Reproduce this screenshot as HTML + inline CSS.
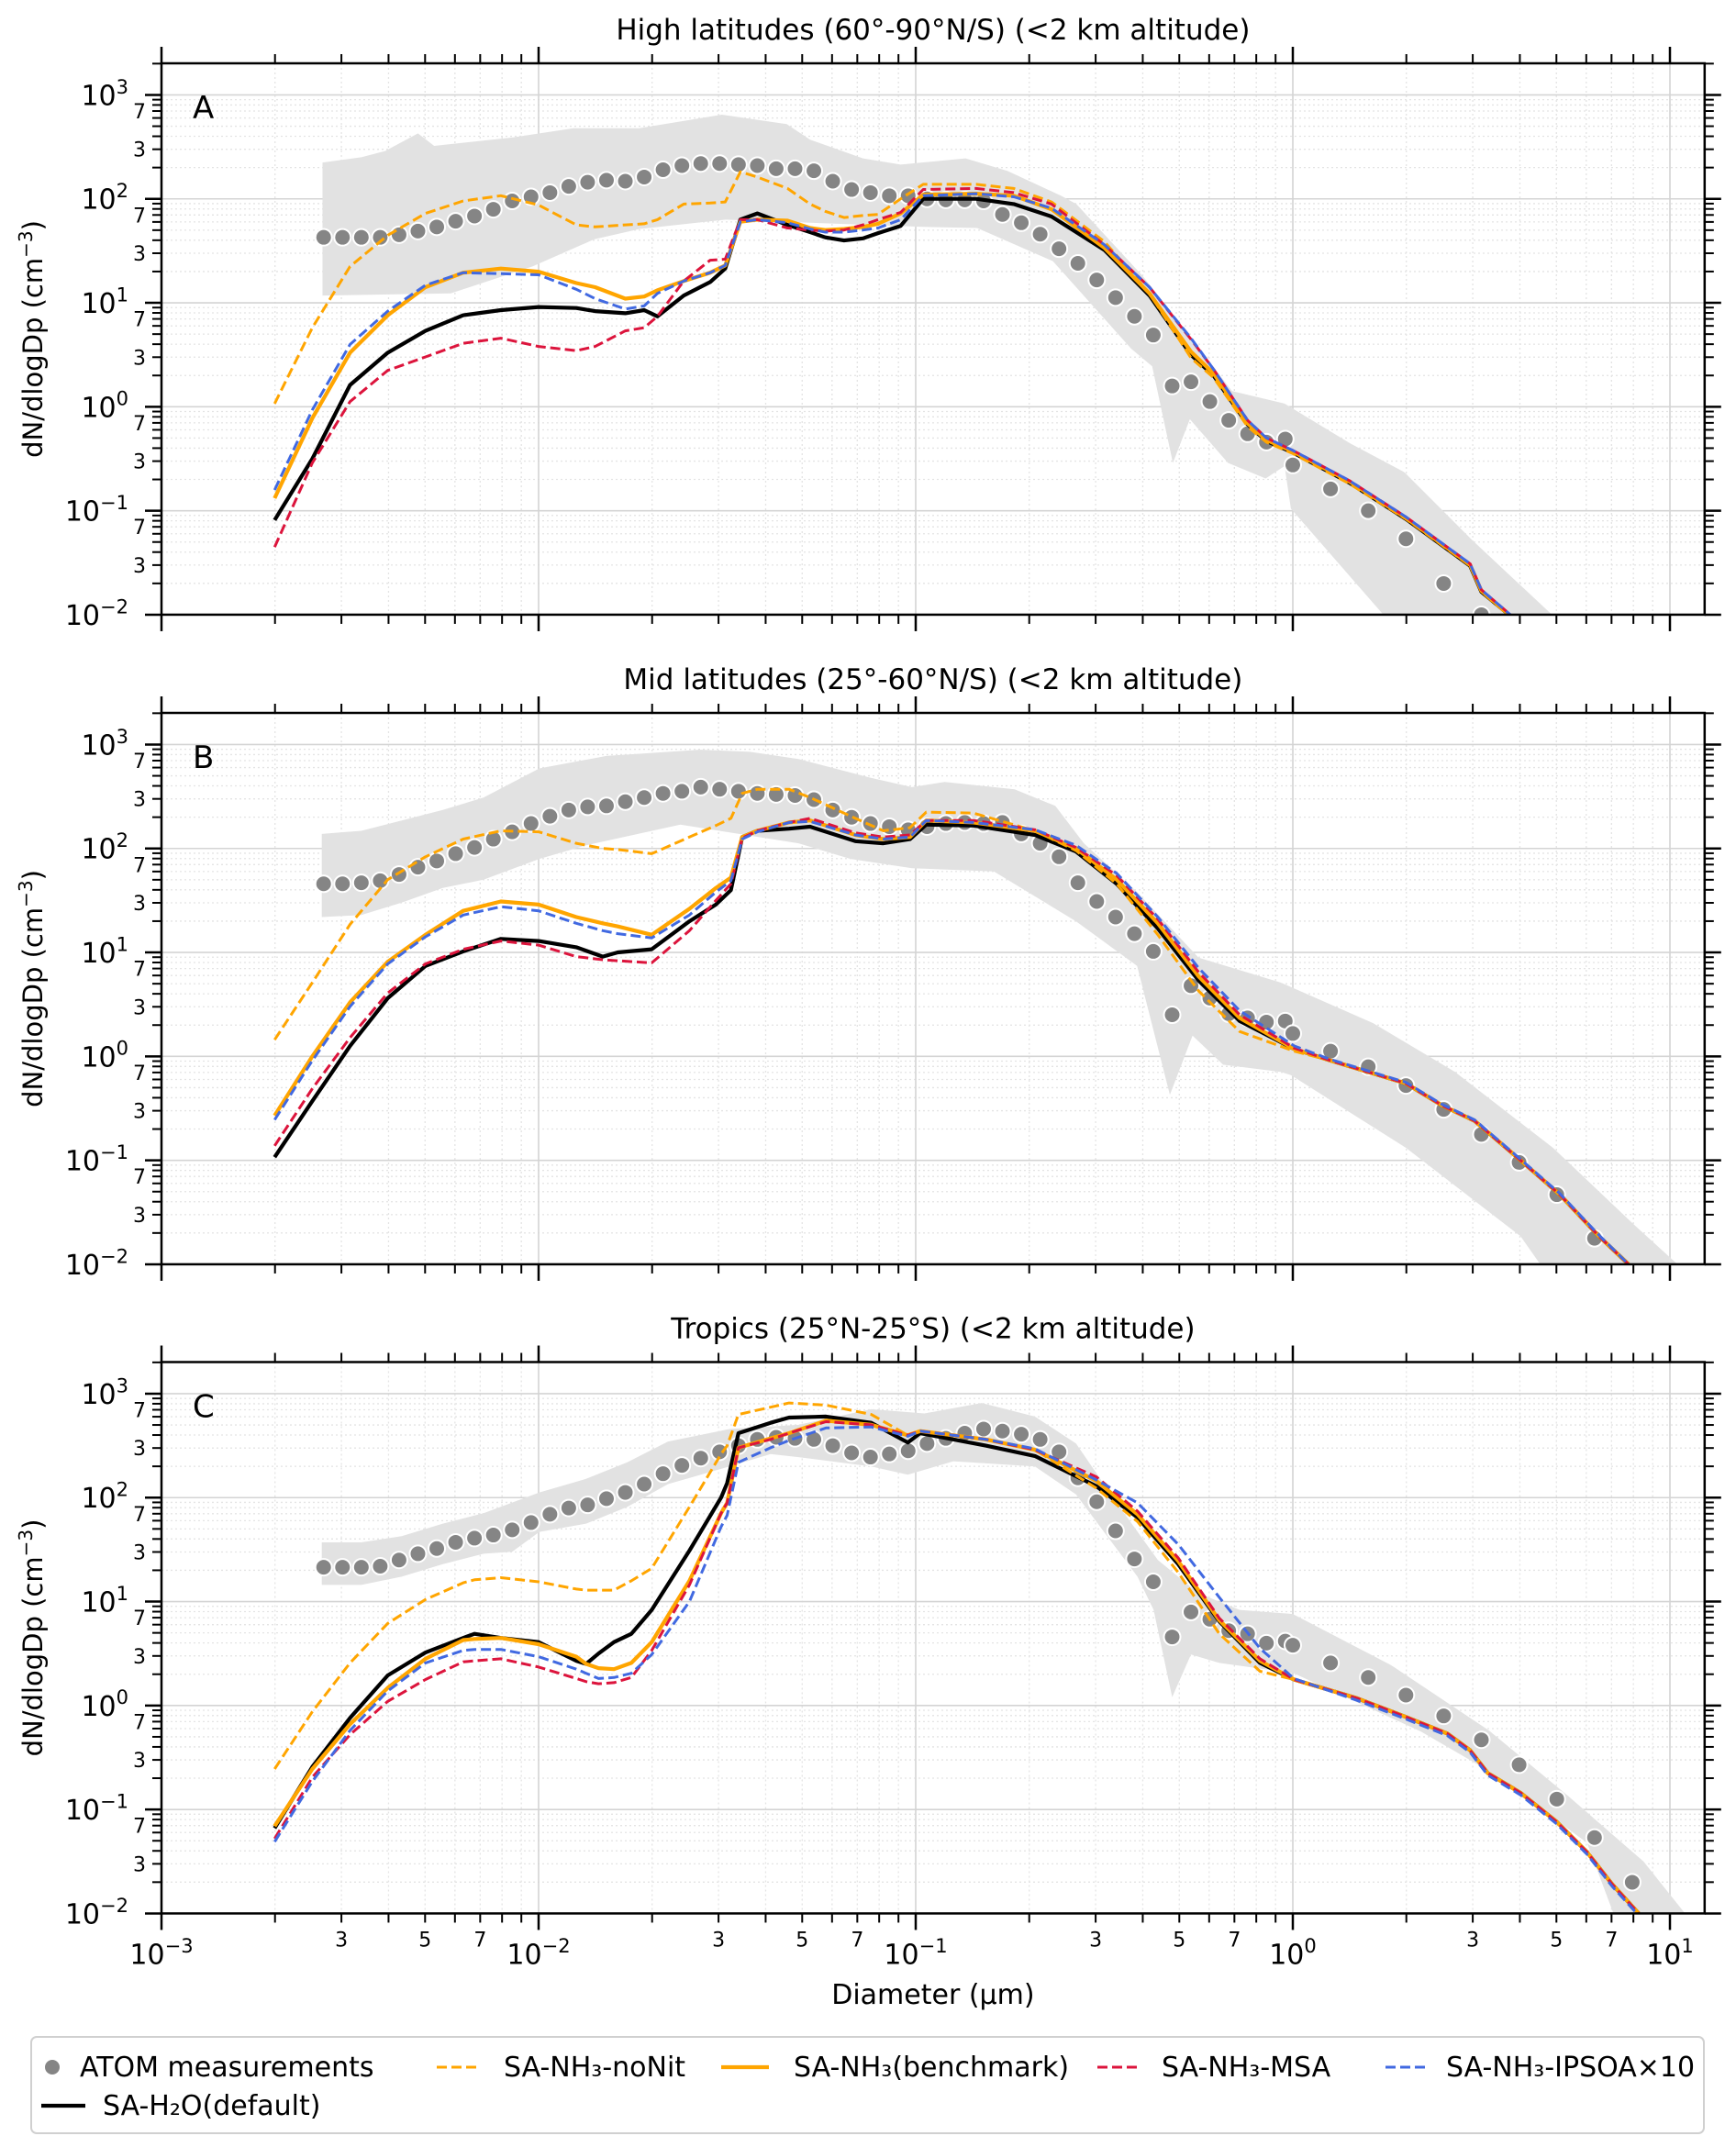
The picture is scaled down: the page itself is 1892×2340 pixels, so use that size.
<!DOCTYPE html>
<html><head><meta charset="utf-8">
<style>
html,body{margin:0;padding:0;background:#fff;}
svg{display:block;font-family:"DejaVu Sans","Liberation Sans",sans-serif;}
</style></head>
<body>
<svg id="chart" width="1892" height="2340" viewBox="0 0 1892 2340" xmlns="http://www.w3.org/2000/svg"><defs id="defs"></defs></svg>
<script>
// ---------- DATA (log10 diameter in µm, log10 dN/dlogDp in cm^-3) ----------
const atomLogD = [-2.57,-2.52,-2.47,-2.42,-2.37,-2.32,-2.27,-2.22,-2.17,-2.12,-2.07,-2.02,-1.97,-1.92,-1.87,-1.82,-1.77,-1.72,-1.67,-1.62,-1.57,-1.52,-1.47,-1.42,-1.37,-1.32,-1.27,-1.22,-1.17,-1.12,-1.07,-1.02,-0.97,-0.92,-0.87,-0.82,-0.77,-0.72,-0.67,-0.62,-0.57,-0.52,-0.47,-0.42,-0.37,-0.32,-0.27,-0.22,-0.17,-0.12,-0.07,-0.02,0.0,0.1,0.2,0.3,0.4,0.5,0.6,0.7,0.8,0.9];

// Panel A
const aGridLogD = [-2.7,-2.6,-2.5,-2.4,-2.3,-2.2,-2.1,-2.0,-1.9,-1.85,-1.77,-1.72,-1.685,-1.615,-1.545,-1.505,-1.465,-1.42,-1.34,-1.28,-1.24,-1.19,-1.14,-1.10,-1.04,-0.98,-0.84,-0.74,-0.64,-0.50,-0.38,-0.27,-0.21,-0.12,-0.07,0,0.15,0.30,0.47,0.50,0.58];
const aH2O = [-1.09,-0.50,0.21,0.52,0.73,0.88,0.93,0.96,0.95,0.92,0.90,0.93,0.87,1.07,1.20,1.33,1.80,1.86,1.75,1.68,1.63,1.60,1.62,1.67,1.74,2.0,2.0,1.95,1.83,1.51,1.07,0.50,0.30,-0.17,-0.33,-0.44,-0.73,-1.08,-1.53,-1.78,-2.02];
const aBench = [-0.88,-0.11,0.52,0.88,1.15,1.29,1.33,1.30,1.19,1.15,1.04,1.06,1.12,1.21,1.29,1.36,1.78,1.80,1.79,1.72,1.70,1.71,1.73,1.76,1.86,2.04,2.05,2.03,1.90,1.53,1.09,0.53,0.32,-0.16,-0.32,-0.43,-0.72,-1.07,-1.52,-1.77,-2.02];
const aIPSOA = [-0.80,-0.03,0.60,0.92,1.17,1.29,1.28,1.27,1.13,1.04,0.94,0.97,1.09,1.21,1.29,1.36,1.78,1.80,1.77,1.71,1.68,1.68,1.70,1.72,1.80,2.03,2.05,2.02,1.91,1.56,1.15,0.66,0.36,-0.13,-0.30,-0.42,-0.71,-1.06,-1.51,-1.76,-2.01];
const aMSA = [-1.35,-0.54,0.05,0.35,0.48,0.61,0.66,0.58,0.54,0.58,0.73,0.76,0.87,1.21,1.41,1.42,1.80,1.80,1.72,1.70,1.69,1.70,1.75,1.80,1.87,2.09,2.10,2.06,1.95,1.56,1.15,0.65,0.36,-0.13,-0.30,-0.42,-0.71,-1.06,-1.51,-1.76,-2.01];
const aNoNit = [0.03,0.76,1.35,1.65,1.86,1.98,2.03,1.94,1.75,1.73,1.75,1.76,1.80,1.95,1.96,1.97,2.26,2.21,2.10,1.95,1.88,1.82,1.84,1.85,2.0,2.14,2.14,2.10,1.97,1.59,1.09,0.47,0.28,-0.19,-0.34,-0.45,-0.74,-1.08,-1.53,-1.78,-2.03];
const aAtom = [1.63,1.63,1.63,1.63,1.655,1.69,1.73,1.785,1.835,1.90,1.98,2.02,2.06,2.12,2.16,2.18,2.17,2.21,2.28,2.32,2.34,2.34,2.33,2.32,2.29,2.29,2.27,2.17,2.09,2.06,2.03,2.03,2.0,1.99,1.99,1.98,1.85,1.77,1.66,1.52,1.38,1.22,1.05,0.87,0.69,0.20,0.24,0.05,-0.13,-0.26,-0.34,-0.31,-0.56,-0.79,-1.0,-1.27,-1.70,-2.0,null,null,null,null];
const aBandUpD = [-2.573,-2.47,-2.407,-2.32,-2.277,-2.07,-1.907,-1.733,-1.514,-1.342,-1.28,-1.14,-1.04,-0.868,-0.757,-0.615,-0.574,-0.396,-0.161,-0.022,0.151,0.296,0.475,0.687];
const aBandUp = [2.35,2.40,2.46,2.63,2.51,2.59,2.68,2.68,2.81,2.72,2.57,2.39,2.33,2.39,2.27,2.03,1.95,1.25,0.15,0.03,-0.35,-0.63,-1.28,-2.0];
const aBandLoD = [-2.573,-2.233,-2.016,-1.853,-1.733,-1.504,-0.979,-0.837,-0.636,-0.429,-0.373,-0.318,-0.273,-0.172,-0.072,-0.022,-0.005,0.24];
const aBandLo = [1.07,1.09,1.35,1.61,1.71,1.80,1.73,1.72,1.40,0.56,0.39,-0.54,-0.12,-0.54,-0.69,-0.57,-0.98,-2.0];

// Panel B
const bGridLogD = [-2.7,-2.6,-2.5,-2.4,-2.3,-2.2,-2.1,-2.0,-1.9,-1.83,-1.79,-1.7,-1.6,-1.53,-1.49,-1.46,-1.42,-1.336,-1.28,-1.16,-1.086,-1.015,-0.972,-0.847,-0.684,-0.575,-0.467,-0.358,-0.25,-0.141,0.004,0.10,0.30,0.395,0.482,0.604,0.708,0.812,0.89];
const bH2O = [-0.97,-0.43,0.10,0.56,0.87,1.01,1.13,1.11,1.05,0.96,1.0,1.03,1.30,1.46,1.60,2.11,2.17,2.19,2.21,2.07,2.05,2.09,2.23,2.22,2.13,1.97,1.66,1.23,0.73,0.34,0.07,-0.04,-0.26,-0.47,-0.62,-1.0,-1.33,-1.73,-2.0];
const bBench = [-0.57,0.0,0.52,0.91,1.17,1.40,1.49,1.46,1.34,1.28,1.25,1.17,1.42,1.62,1.72,2.11,2.17,2.25,2.27,2.13,2.09,2.11,2.27,2.25,2.17,2.0,1.70,1.28,0.77,0.37,0.07,-0.04,-0.26,-0.47,-0.62,-1.0,-1.33,-1.73,-2.0];
const bIPSOA = [-0.61,-0.04,0.48,0.89,1.15,1.36,1.44,1.40,1.28,1.21,1.18,1.14,1.36,1.58,1.69,2.09,2.16,2.25,2.26,2.13,2.09,2.11,2.27,2.25,2.18,2.03,1.76,1.34,0.85,0.44,0.10,-0.03,-0.25,-0.46,-0.61,-0.99,-1.32,-1.72,-2.0];
const bMSA = [-0.86,-0.31,0.18,0.61,0.89,1.03,1.11,1.07,0.96,0.93,0.92,0.90,1.21,1.50,1.66,2.10,2.17,2.25,2.29,2.15,2.11,2.13,2.27,2.27,2.18,2.01,1.74,1.32,0.81,0.40,0.08,-0.04,-0.26,-0.47,-0.62,-1.0,-1.33,-1.73,-2.0];
const bNoNit = [0.16,0.71,1.27,1.70,1.92,2.09,2.17,2.16,2.05,2.0,1.99,1.95,2.11,2.22,2.29,2.53,2.57,2.57,2.49,2.29,2.17,2.20,2.35,2.34,2.17,1.98,1.66,1.17,0.63,0.24,0.05,-0.04,-0.26,-0.47,-0.62,-1.0,-1.33,-1.73,-2.0];
const bAtom = [1.66,1.66,1.67,1.69,1.75,1.82,1.88,1.95,2.01,2.09,2.16,2.24,2.31,2.37,2.40,2.41,2.45,2.49,2.53,2.55,2.59,2.57,2.55,2.53,2.52,2.51,2.47,2.37,2.30,2.24,2.21,2.18,2.21,2.24,2.25,2.24,2.25,2.14,2.05,1.92,1.67,1.49,1.34,1.18,1.01,0.40,0.68,0.56,0.41,0.37,0.33,0.34,0.22,0.05,-0.10,-0.28,-0.51,-0.75,-1.02,-1.33,-1.75,null];
const bBandUpD = [-2.575,-2.47,-2.363,-2.254,-2.146,-1.998,-1.82,-1.57,-1.44,-1.311,-1.119,-1.01,-0.923,-0.738,-0.63,-0.554,-0.413,-0.25,-0.032,0.213,0.43,0.69,0.908,1.02];
const bBandUp = [2.14,2.17,2.27,2.37,2.49,2.77,2.89,2.95,2.93,2.86,2.68,2.59,2.64,2.57,2.41,2.05,1.58,0.95,0.71,0.32,-0.15,-0.88,-1.63,-2.0];
const bBandLoD = [-2.575,-2.47,-2.363,-2.254,-2.146,-1.998,-1.874,-1.624,-1.311,-1.173,-1.01,-0.793,-0.575,-0.413,-0.326,-0.266,-0.185,-0.032,-0.005,0.30,0.604,0.656];
const bBandLo = [1.34,1.36,1.48,1.62,1.70,1.90,2.03,2.23,2.05,1.90,1.81,1.78,1.30,0.87,-0.37,0.20,-0.08,-0.15,-0.18,-0.88,-1.73,-2.0];

// Panel C
const cGridLogD = [-2.7,-2.6,-2.5,-2.4,-2.3,-2.2,-2.17,-2.1,-2.0,-1.9,-1.874,-1.841,-1.8,-1.754,-1.7,-1.6,-1.516,-1.5,-1.47,-1.385,-1.336,-1.238,-1.118,-1.021,-0.988,-0.814,-0.684,-0.521,-0.412,-0.304,-0.195,-0.087,0.003,0.17,0.30,0.41,0.47,0.517,0.604,0.70,0.78,0.847,0.917];
const cH2O = [-1.18,-0.59,-0.12,0.29,0.51,0.65,0.69,0.65,0.61,0.43,0.40,0.50,0.61,0.69,0.92,1.49,2.0,2.14,2.62,2.72,2.77,2.78,2.72,2.53,2.62,2.50,2.40,2.11,1.81,1.36,0.81,0.41,0.25,0.07,-0.11,-0.27,-0.43,-0.65,-0.84,-1.12,-1.41,-1.72,-2.0];
const cBench = [-1.16,-0.61,-0.18,0.17,0.45,0.63,0.64,0.65,0.59,0.47,0.40,0.36,0.35,0.41,0.61,1.20,1.85,1.95,2.48,2.57,2.62,2.74,2.70,2.60,2.64,2.56,2.46,2.16,1.84,1.39,0.82,0.43,0.25,0.07,-0.11,-0.27,-0.43,-0.65,-0.84,-1.12,-1.41,-1.72,-2.0];
const cIPSOA = [-1.31,-0.73,-0.24,0.14,0.41,0.53,0.54,0.54,0.47,0.35,0.31,0.26,0.27,0.31,0.49,1.0,1.72,1.83,2.34,2.48,2.55,2.67,2.68,2.59,2.64,2.56,2.47,2.17,1.95,1.55,1.04,0.55,0.26,0.05,-0.13,-0.29,-0.45,-0.67,-0.86,-1.14,-1.43,-1.74,-2.02];
const cMSA = [-1.28,-0.69,-0.28,0.04,0.25,0.42,0.43,0.45,0.37,0.26,0.23,0.21,0.22,0.27,0.53,1.16,1.85,1.95,2.48,2.56,2.62,2.73,2.70,2.60,2.64,2.56,2.46,2.20,1.87,1.42,0.84,0.45,0.25,0.07,-0.11,-0.27,-0.43,-0.65,-0.84,-1.12,-1.41,-1.72,-2.0];
const cNoNit = [-0.61,-0.06,0.41,0.79,1.02,1.18,1.21,1.23,1.19,1.12,1.11,1.11,1.11,1.20,1.32,1.91,2.42,2.50,2.80,2.87,2.91,2.89,2.80,2.60,2.64,2.56,2.46,2.09,1.77,1.28,0.69,0.33,0.25,0.07,-0.11,-0.27,-0.43,-0.65,-0.84,-1.12,-1.41,-1.72,-2.0];
const cAtom = [1.33,1.33,1.33,1.34,1.40,1.46,1.51,1.57,1.61,1.64,1.69,1.76,1.84,1.90,1.93,1.99,2.05,2.13,2.23,2.31,2.38,2.44,2.50,2.56,2.58,2.57,2.56,2.50,2.43,2.39,2.42,2.45,2.52,2.57,2.62,2.66,2.64,2.61,2.56,2.44,2.19,1.96,1.68,1.41,1.19,0.66,0.90,0.83,0.72,0.69,0.60,0.62,0.58,0.41,0.27,0.10,-0.10,-0.33,-0.57,-0.90,-1.27,-1.70];
const cBandUpD = [-2.575,-2.47,-2.363,-2.254,-2.146,-1.998,-1.874,-1.765,-1.657,-1.494,-1.311,-1.118,-0.977,-0.825,-0.684,-0.575,-0.467,-0.358,-0.25,-0.141,0.0,0.26,0.52,0.73,0.93,1.04];
const cBandUp = [1.57,1.57,1.63,1.75,1.85,2.05,2.18,2.34,2.54,2.66,2.70,2.85,2.81,2.91,2.78,2.52,1.95,1.40,1.08,0.92,0.88,0.39,-0.24,-0.87,-1.5,-2.0];
const cBandLoD = [-2.575,-2.47,-2.363,-2.254,-2.146,-2.07,-1.998,-1.874,-1.765,-1.657,-1.494,-1.385,-1.311,-1.118,-1.021,-0.9,-0.684,-0.575,-0.412,-0.369,-0.32,-0.27,-0.195,0.003,0.34,0.52,0.78,0.85];
const cBandLo = [1.16,1.16,1.24,1.36,1.46,1.48,1.67,1.75,1.91,2.13,2.30,2.42,2.39,2.30,2.22,2.35,2.30,2.03,1.24,0.92,0.08,0.49,0.41,0.31,-0.25,-0.63,-1.32,-2.0];

const titles = ["High latitudes (60°-90°N/S) (<2 km altitude)","Mid latitudes (25°-60°N/S) (<2 km altitude)","Tropics (25°N-25°S) (<2 km altitude)"];
const letters = ["A","B","C"];

// ---------- AXES ----------
const X0 = 176, XDEC = 411, XMIN = -3, XMAX = 1.092;
const YTOP = 3.304, YMIN = -2, YDEC = 113.3;
const PW = X0 + (XMAX - XMIN) * XDEC - X0;
const PH = (YTOP - YMIN) * YDEC;
const tops = [69, 777, 1484.5];
function xs(L){ return X0 + (L - XMIN) * XDEC; }
function ys(top, v){ return top + (YTOP - v) * YDEC; }

const NS = 'http://www.w3.org/2000/svg';
const svg = document.getElementById('chart');
const defs = document.getElementById('defs');
function mk(tag, attrs, parent){
  const e = document.createElementNS(NS, tag);
  for (const k in attrs) e.setAttribute(k, attrs[k]);
  (parent || svg).appendChild(e);
  return e;
}
function sup(parent, x, y, base, exp, size, anchor, name){
  const t = mk('text', {x:x, y:y, 'font-size':size, 'text-anchor':anchor, fill:'#000'}, parent);
  
  
  const a = mk('tspan', {}, t); a.textContent = base;
  const b = mk('tspan', {dy: -size*0.42, 'font-size': size*0.7}, t); b.textContent = exp;
  return t;
}

function drawPanel(pi, grid, h2o, bench, ipsoa, msa, nonit, atom, upD, up, loD, lo){
  const top = tops[pi];
  const g = mk('g', {});
  
  
  const cp = mk('clipPath', {id:'clip'+pi}, defs);
  mk('rect', {x:X0, y:top, width:PW, height:PH}, cp);

  const gg = mk('g', {}, g);
  
  
  for (let k = -3; k <= 1; k++) for (let m = 2; m <= 9; m++){
    const L = k + Math.log10(m); if (L > XMAX) continue;
    const ln = mk('line', {x1:xs(L), x2:xs(L), y1:top, y2:top+PH, stroke:'#e4e4e4', 'stroke-width':1.3, 'stroke-dasharray':'2 3'}, gg);
    
    
  }
  for (let k = -2; k <= 3; k++) for (let m = 2; m <= 9; m++){
    const L = k + Math.log10(m); if (L > YTOP) continue;
    const ln = mk('line', {x1:X0, x2:X0+PW, y1:ys(top,L), y2:ys(top,L), stroke:'#e4e4e4', 'stroke-width':1.3, 'stroke-dasharray':'2 3'}, gg);
    
    
  }
  for (let k = -3; k <= 1; k++){
    const ln = mk('line', {x1:xs(k), x2:xs(k), y1:top, y2:top+PH, stroke:'#d4d4d4', 'stroke-width':1.6}, gg);
    
    
  }
  for (let k = -2; k <= 3; k++){
    const ln = mk('line', {x1:X0, x2:X0+PW, y1:ys(top,k), y2:ys(top,k), stroke:'#d4d4d4', 'stroke-width':1.6}, gg);
    
    
  }

  const plot = mk('g', {'clip-path':'url(#clip'+pi+')'}, g);
  
  

  let pts = [];
  for (let i = 0; i < upD.length; i++) pts.push(xs(upD[i]).toFixed(1)+','+ys(top,up[i]).toFixed(1));
  for (let i = loD.length-1; i >= 0; i--) pts.push(xs(loD[i]).toFixed(1)+','+ys(top,lo[i]).toFixed(1));
  const band = mk('polygon', {points:pts.join(' '), fill:'#e2e2e2', stroke:'none'}, plot);
  
  

  for (let i = 0; i < atomLogD.length; i++){
    if (atom[i] === null || atom[i] === undefined) continue;
    const c = mk('circle', {cx:xs(atomLogD[i]), cy:ys(top,atom[i]), r:9, fill:'#858585', stroke:'#fff', 'stroke-width':2}, plot);
    
    
  }

  const series = [
    {v:h2o, col:'#000', w:4.2, dash:null, name:'sa-h2o-default-line'},
    {v:bench, col:'#FFA500', w:4.2, dash:null, name:'sa-nh3-benchmark-line'},
    {v:nonit, col:'#FFA500', w:3, dash:'11 5', name:'sa-nh3-nonit-line'},
    {v:msa, col:'#DC143C', w:3, dash:'11 5', name:'sa-nh3-msa-line'},
    {v:ipsoa, col:'#4169E1', w:3, dash:'11 5', name:'sa-nh3-ipsoa-line'}
  ];
  for (const s of series){
    const p = [];
    for (let i = 0; i < grid.length; i++) p.push(xs(grid[i]).toFixed(1)+','+ys(top,s.v[i]).toFixed(1));
    const a = {points:p.join(' '), fill:'none', stroke:s.col, 'stroke-width':s.w, 'stroke-linejoin':'round'};
    if (s.dash) a['stroke-dasharray'] = s.dash;
    const pl = mk('polyline', a, plot);
    
    
  }

  const fr = mk('rect', {x:X0, y:top, width:PW, height:PH, fill:'none', stroke:'#000', 'stroke-width':2.5}, g);
  
  

  const tk = mk('g', {stroke:'#000'}, g);
  
  
  for (let k = -3; k <= 1; k++){
    for (let m = 1; m <= 9; m++){
      const L = k + Math.log10(m); if (L > XMAX) continue;
      const len = m === 1 ? 18 : 10, w = m === 1 ? 2.5 : 2;
      const t1 = mk('line', {x1:xs(L), x2:xs(L), y1:top, y2:top-len, 'stroke-width':w}, tk);
      
      
      const t2 = mk('line', {x1:xs(L), x2:xs(L), y1:top+PH, y2:top+PH+len, 'stroke-width':w}, tk);
      
      
    }
  }
  for (let k = -2; k <= 3; k++){
    for (let m = 1; m <= 9; m++){
      const L = k + Math.log10(m); if (L > YTOP) continue;
      const len = m === 1 ? 18 : 10, w = m === 1 ? 2.5 : 2;
      const t1 = mk('line', {x1:X0, x2:X0-len, y1:ys(top,L), y2:ys(top,L), 'stroke-width':w}, tk);
      
      
      const t2 = mk('line', {x1:X0+PW, x2:X0+PW+len, y1:ys(top,L), y2:ys(top,L), 'stroke-width':w}, tk);
      
      
    }
  }

  for (let k = -2; k <= 3; k++){
    sup(g, 140, ys(top,k)+11, '10', k < 0 ? '\u2212'+(-k) : ''+k, 30, 'end', 'y-tick-label');
    for (const m of [3,7]){
      const L = k + Math.log10(m); if (L > YTOP) continue;
      const t = mk('text', {x:159, y:ys(top,L)+8, 'font-size':22, 'text-anchor':'end', fill:'#000'}, g);
      
      
      t.textContent = m;
    }
  }
  const yt = mk('text', {x:0, y:0, 'font-size':29, 'text-anchor':'middle', fill:'#000', transform:'translate(46,'+(top+PH/2)+') rotate(-90)'}, g);
  
  
  const y1 = mk('tspan', {}, yt); y1.textContent = 'dN/dlogDp (cm';
  const y2 = mk('tspan', {dy:-11, 'font-size':20}, yt); y2.textContent = '\u22123';
  const y3 = mk('tspan', {dy:11}, yt); y3.textContent = ')';

  const ti = mk('text', {x:X0+PW/2, y:top-26, 'font-size':31, 'text-anchor':'middle', fill:'#000'}, g);
  
  
  ti.textContent = titles[pi];
  const le = mk('text', {x:210, y:top+60, 'font-size':34, fill:'#000'}, g);
  
  
  le.textContent = letters[pi];

  if (pi === 2){
    for (let k = -3; k <= 1; k++){
      sup(g, xs(k), top+PH+55, '10', k < 0 ? '\u2212'+(-k) : ''+k, 30, 'middle', 'x-tick-label');
      if (k < 1) for (const m of [3,5,7]){
        const t = mk('text', {x:xs(k+Math.log10(m)), y:top+PH+36, 'font-size':22, 'text-anchor':'middle', fill:'#000'}, g);
        
        
        t.textContent = m;
      }
    }
    const xt = mk('text', {x:X0+PW/2, y:2184, 'font-size':30, 'text-anchor':'middle', fill:'#000'}, g);
    
    
    xt.textContent = 'Diameter (\u00b5m)';
  }
}

drawPanel(0, aGridLogD, aH2O, aBench, aIPSOA, aMSA, aNoNit, aAtom, aBandUpD, aBandUp, aBandLoD, aBandLo);
drawPanel(1, bGridLogD, bH2O, bBench, bIPSOA, bMSA, bNoNit, bAtom, bBandUpD, bBandUp, bBandLoD, bBandLo);
drawPanel(2, cGridLogD, cH2O, cBench, cIPSOA, cMSA, cNoNit, cAtom, cBandUpD, cBandUp, cBandLoD, cBandLo);

// ---------- LEGEND ----------
const lg = mk('g', {});


const box = mk('rect', {x:34, y:2220, width:1823, height:105, rx:6, fill:'#fff', stroke:'#d0d0d0', 'stroke-width':2}, lg);


const ld = mk('circle', {cx:57, cy:2253, r:9, fill:'#858585', stroke:'#fff', 'stroke-width':2}, lg);


const legendLines = [
  {x1:476, x2:524, y:2253, col:'#FFA500', w:3, dash:'11 5', name:'legend-line-nonit'},
  {x1:786, x2:838, y:2253, col:'#FFA500', w:4.2, dash:null, name:'legend-line-benchmark'},
  {x1:1196, x2:1244, y:2253, col:'#DC143C', w:3, dash:'11 5', name:'legend-line-msa'},
  {x1:1510, x2:1558, y:2253, col:'#4169E1', w:3, dash:'11 5', name:'legend-line-ipsoa'},
  {x1:45, x2:93, y:2295, col:'#000', w:4.2, dash:null, name:'legend-line-h2o'}
];
for (const l of legendLines){
  const a = {x1:l.x1, x2:l.x2, y1:l.y, y2:l.y, stroke:l.col, 'stroke-width':l.w};
  if (l.dash) a['stroke-dasharray'] = l.dash;
  const e = mk('line', a, lg);
  
  
}
const legendTexts = [
  {x:87, y:2263, t:'ATOM measurements', name:'legend-entry-atom'},
  {x:549, y:2263, t:'SA-NH\u2083-noNit', name:'legend-entry-nonit'},
  {x:865, y:2263, t:'SA-NH\u2083(benchmark)', name:'legend-entry-benchmark'},
  {x:1266, y:2263, t:'SA-NH\u2083-MSA', name:'legend-entry-msa'},
  {x:1576, y:2263, t:'SA-NH\u2083-IPSOA\u00d710', name:'legend-entry-ipsoa'},
  {x:112, y:2305, t:'SA-H\u2082O(default)', name:'legend-entry-h2o'}
];
for (const l of legendTexts){
  const e = mk('text', {x:l.x, y:l.y, 'font-size':30, fill:'#000'}, lg);
  
  
  e.textContent = l.t;
}
</script>
</body></html>
